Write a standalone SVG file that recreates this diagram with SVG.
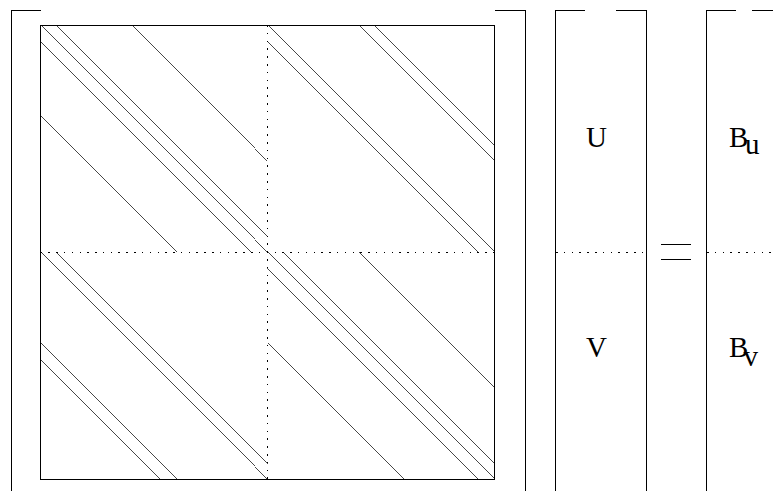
<svg xmlns="http://www.w3.org/2000/svg" width="773" height="491" viewBox="0 0 773 491">
<style>
.s{fill:none;stroke:#000;stroke-width:1;shape-rendering:crispEdges}
.g line{fill:none;stroke:#000;stroke-width:0.72;shape-rendering:crispEdges}
.d{fill:none;stroke:#000;stroke-width:1;stroke-dasharray:1.5 6.3;shape-rendering:crispEdges}
.t{font-family:"Liberation Serif","Times New Roman",serif;font-size:29px;fill:#000}
</style>
<rect width="773" height="491" fill="#fff"/>
<g id="brackets">
<path class="s" d="M41,10.5 H11.5 V491"/>
<path class="s" d="M495,10.5 H525.5 V491"/>
</g>
<g id="matrix">
<rect class="s" x="40.5" y="25" width="454" height="454"/>
<line class="d" x1="267.5" y1="25" x2="267.5" y2="479"/>
<line class="d" x1="40.5" y1="252" x2="494.5" y2="252"/>
</g>
<g id="connectors" class="g">
<g id="q-top-left">
<line x1="40.5" y1="25" x2="267.5" y2="252"/>
<line x1="56" y1="25" x2="267.5" y2="236.5"/>
<line x1="40.5" y1="40.5" x2="252" y2="252"/>
<line x1="131.5" y1="25" x2="267.5" y2="161"/>
<line x1="40.5" y1="116" x2="176.5" y2="252"/>
</g>
<g id="q-top-right">
<line x1="267.5" y1="25" x2="494.5" y2="252"/>
<line x1="267.5" y1="40.5" x2="479" y2="252"/>
<line x1="358.5" y1="25" x2="494.5" y2="161"/>
<line x1="374" y1="25" x2="494.5" y2="145.5"/>
</g>
<g id="q-bottom-left">
<line x1="40.5" y1="252" x2="267.5" y2="479"/>
<line x1="56" y1="252" x2="267.5" y2="463.5"/>
<line x1="40.5" y1="343" x2="176.5" y2="479"/>
<line x1="40.5" y1="358.5" x2="161" y2="479"/>
</g>
<g id="q-bottom-right">
<line x1="267.5" y1="252" x2="494.5" y2="479"/>
<line x1="283" y1="252" x2="494.5" y2="463.5"/>
<line x1="267.5" y1="267.5" x2="479" y2="479"/>
<line x1="358.5" y1="252" x2="494.5" y2="388"/>
<line x1="267.5" y1="343" x2="403.5" y2="479"/>
</g>
</g>
<g id="vector-uv">
<path class="s" d="M585,10.5 H555 V491"/>
<path class="s" d="M616,10.5 H646 V491"/>
<line class="d" x1="556" y1="252" x2="646" y2="252"/>
<text class="t" x="596.5" y="146.5" text-anchor="middle">U</text>
<text class="t" x="596.5" y="357" text-anchor="middle">V</text>
</g>
<g id="equals">
<line class="s" x1="661" y1="244.5" x2="691" y2="244.5"/>
<line class="s" x1="661" y1="259.5" x2="691" y2="259.5"/>
</g>
<g id="vector-b">
<path class="s" d="M736,10.5 H706 V491"/>
<path class="s" d="M751.5,10.5 H773"/>
<line class="d" x1="707" y1="252" x2="773" y2="252"/>
<text class="t" x="729" y="147">B<tspan x="745" y="154">u</tspan></text>
<text class="t" x="729" y="357">B<tspan x="743.5" y="366">v</tspan></text>
</g>
</svg>
